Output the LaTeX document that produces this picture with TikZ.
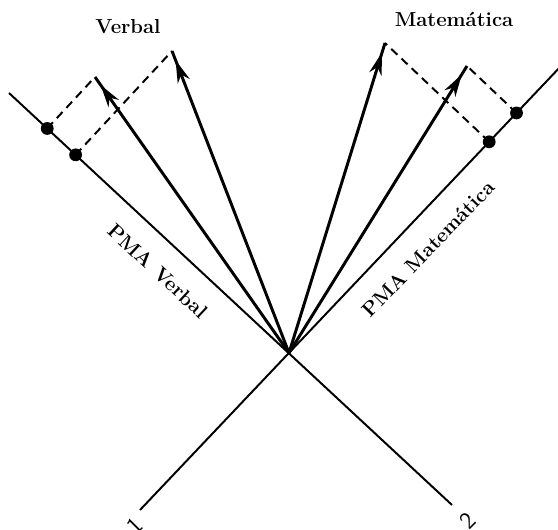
\documentclass[tikz,border=0pt]{standalone}
\usetikzlibrary{calc,arrows.meta,decorations.markings}

\begin{document}
\begin{tikzpicture}[x=0.025cm,y=0.025cm,
  axis/.style={line width=1.4pt},
  vec/.style={line width=2.1pt,postaction={decorate},
    decoration={markings,mark=at position -7pt with {\arrow{Stealth[length=16pt,width=9pt,inset=5pt]}}}},
  proj/.style={line width=1.4pt,dash pattern=on 6pt off 4pt},
  pt/.style={fill=black},
  lbl/.style={font=\Large\bfseries}]
\useasboundingbox (0,0) rectangle (558,530);

\coordinate (O) at (289,177);
\coordinate (b1) at (9,437);
\coordinate (b2) at (452,25);
\coordinate (a1) at (140,20);
\coordinate (a2) at (562,465);

\draw[axis] (b1) -- (b2);
\draw[axis] (a1) -- (a2);

\coordinate (v1) at (95,453);
\coordinate (v2) at (172,479);
\coordinate (v3) at (385,487);
\coordinate (v4) at (467,464);

\coordinate (p1) at ($(O)!(v1)!(b1)$);
\coordinate (p2) at ($(O)!(v2)!(b1)$);
\coordinate (p3) at ($(O)!(v3)!(a2)$);
\coordinate (p4) at ($(O)!(v4)!(a2)$);

\foreach \i in {1,2,3,4}{
  \draw[proj] (p\i) -- (v\i);
  \draw[vec] (O) -- (v\i);
  \fill[pt] (p\i) circle[radius=0.16cm];
}

\node[lbl] (verbal) at (128,503) {Verbal};
\node[lbl] (mat) at (454,511) {Matemática};
\node[lbl,rotate=-43] (pmav) at (158,259) {PMA\hspace{.4em}Verbal};
\node[lbl,rotate=46] (pmam) at (428,281) {PMA\hspace{.4em}Matemática};
\node[rotate=45,font=\LARGE\sffamily] (n1) at (135,4) {1};
\node[rotate=45,font=\LARGE\sffamily] (n2) at (468,9) {2};
\end{tikzpicture}
\end{document}
